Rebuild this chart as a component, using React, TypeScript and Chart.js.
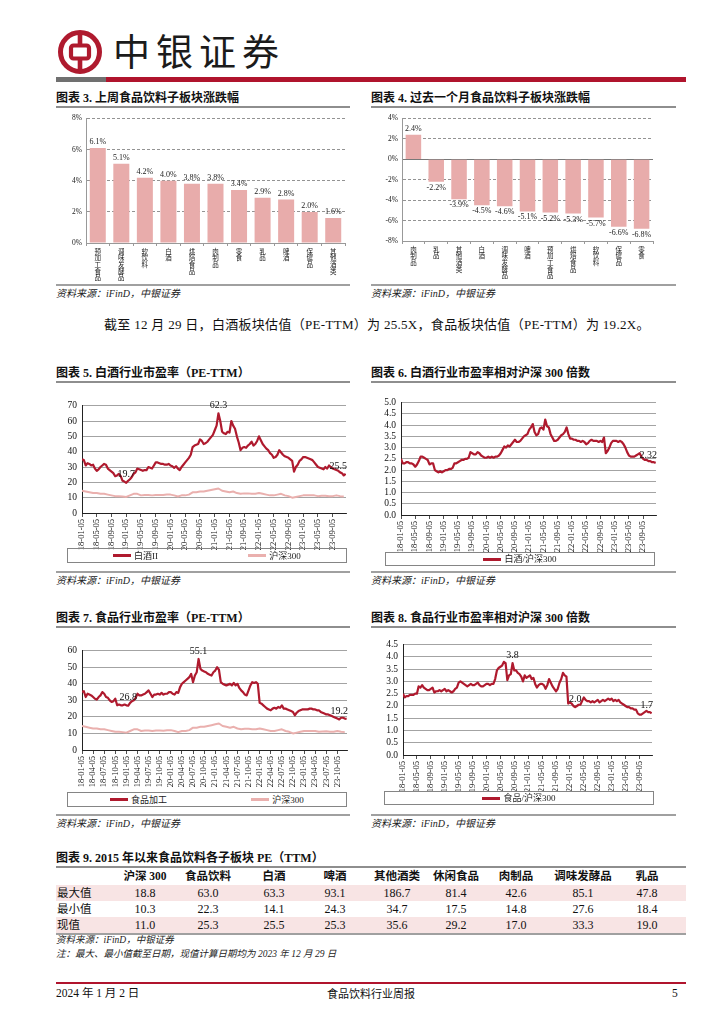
import React, { useEffect, useRef } from 'react';
import { Chart, registerables } from 'chart.js';

Chart.register(...registerables);

const SERIF = '"Liberation Serif", "Times New Roman", "Noto Sans CJK SC", serif';
const CJK = '"Noto Sans CJK SC", sans-serif';
const RED = '#AF1A2E';
const PINK = '#EAB0AE';
const BAR = '#E8ACAB';

// ---------- Chart 3: weekly change ----------
const WEEK_CATS = ['预加工食品', '调味发酵品', '软饮料', '白酒', '烘焙食品', '肉制品', '零食', '乳品', '啤酒', '保健品', '其他酒类'];
const WEEK_VALS = [6.1, 5.1, 4.2, 4.0, 3.8, 3.8, 3.4, 2.9, 2.8, 2.0, 1.6];

// ---------- Chart 4: monthly change ----------
const MONTH_CATS = ['肉制品', '乳品', '其他酒类', '白酒', '调味发酵品', '啤酒', '预加工食品', '烘焙食品', '软饮料', '保健品', '零食'];
const MONTH_VALS = [2.4, -2.2, -3.9, -4.5, -4.6, -5.1, -5.2, -5.3, -5.7, -6.6, -6.8];

// ---------- time axis tick labels ----------
const TICKS_4M = ['18-01-05', '18-05-05', '18-09-05', '19-01-05', '19-05-05', '19-09-05', '20-01-05', '20-05-05', '20-09-05', '21-01-05', '21-05-05', '21-09-05', '22-01-05', '22-05-05', '22-09-05', '23-01-05', '23-05-05', '23-09-05'];
const TICKS_3M = ['18-01-05', '18-04-05', '18-07-05', '18-10-05', '19-01-05', '19-04-05', '19-07-05', '19-10-05', '20-01-05', '20-04-05', '20-07-05', '20-10-05', '21-01-05', '21-04-05', '21-07-05', '21-10-05', '22-01-05', '22-04-05', '22-07-05', '22-10-05', '23-01-05', '23-04-05', '23-07-05', '23-10-05'];

// ---------- Chart 5: Baijiu PE (twice a month, 2018-01 .. 2023-12) ----------
const BAIJIU_PE = [
  35, 34.5, 31, 32.5, 32, 31, 31.5, 29, 27.5, 28.5, 30, 31, 32, 31.5, 29, 28, 27, 26, 24, 24.5, 25.5, 24, 21, 20.5,
  19.7, 21, 22, 23.5, 25.5, 26.5, 29, 28.5, 28, 27.5, 28, 28, 30, 29.5, 29, 31, 33, 33, 32.5, 32, 32, 31.5, 31.5, 32,
  31, 30.5, 29.5, 30.5, 29, 28, 30, 31.5, 33, 34.5, 36, 38, 43, 44, 44.5, 45, 48, 47, 45, 45.5, 46.5, 48, 49.5, 51,
  54, 57, 65, 60, 53, 52, 51.5, 53, 52.5, 60, 57, 55, 50, 46, 41, 42.5, 43, 42.5, 44, 45, 46.5, 44, 45, 47,
  50, 47.5, 45, 43.5, 42, 41, 39, 38, 36, 36.5, 38, 41, 39.5, 38, 37, 36.5, 36, 35, 34, 27, 30, 31.5, 34, 35,
  36.5, 36.5, 36, 35.5, 35, 34.5, 33, 31.5, 30, 29.5, 29, 28.5, 30, 29, 31, 30, 29, 28.5, 28, 27.5, 26.5, 26, 24.5, 25.5,
];
// CSI 300 PE (monthly)
const HS300_PE = [
  14.5, 14, 13.5, 13, 13, 12.5, 12.5, 12, 11.5, 11, 11, 10.8,
  10.5, 11.5, 12.5, 12.5, 11.5, 11.8, 11.8, 11.5, 11.8, 11.8, 11.7, 12,
  12, 11.5, 10.8, 11.5, 11.5, 12, 13.5, 13.5, 14, 14, 14.5, 15,
  15.5, 16, 14.5, 14, 13.5, 14, 13, 12.5, 12.8, 12.8, 12.5, 12.5,
  13, 12.5, 12, 11.5, 11.5, 12, 12.5, 11.5, 11, 10, 10.5, 11,
  11.5, 11.5, 11.5, 11.5, 11, 11.2, 11.3, 11, 11, 11.5, 11, 10.8,
];
const BAIJIU_PE_NOTES = [
  { index: 74, text: '62.3' },
  { index: 24, text: '19.7' },
  { index: 143, text: '25.5' },
];

// ---------- Chart 6: Baijiu / CSI300 ----------
const BAIJIU_REL = [
  2.5, 2.3, 2.3, 2.35, 2.35, 2.3, 2.3, 2.25, 2.15, 2.25, 2.4, 2.6, 2.6, 2.55, 2.5, 2.45, 2.25, 2.3, 2.3, 2.0, 1.95, 1.9, 1.95, 1.9,
  1.95, 2.0, 2.0, 2.05, 2.05, 2.1, 2.3, 2.3, 2.35, 2.4, 2.45, 2.45, 2.5, 2.5, 2.55, 2.8, 2.75, 2.7, 2.7, 2.8, 2.75, 2.65, 2.6, 2.55,
  2.55, 2.6, 2.55, 2.6, 2.55, 2.6, 2.6, 2.65, 2.75, 2.9, 3.05, 3.0, 3.1, 3.05, 3.15, 3.25, 3.35, 3.25, 3.25, 3.3, 3.4, 3.5, 3.55, 3.6,
  3.8, 3.9, 4.05, 3.7, 3.55, 3.6, 3.85, 3.9, 3.8, 4.25, 3.95, 3.9, 3.6, 3.45, 3.3, 3.3, 3.35, 3.45, 3.55, 3.6, 3.7, 3.9, 3.6, 3.4,
  3.4, 3.35, 3.35, 3.3, 3.3, 3.25, 3.3, 3.25, 3.15, 3.2, 3.3, 3.35, 3.3, 3.3, 3.3, 3.25, 3.3, 3.25, 3.45, 2.75, 2.85, 3.0, 3.2, 3.3,
  3.3, 3.3, 3.25, 3.3, 3.25, 3.15, 3.0, 2.8, 2.65, 2.6, 2.6, 2.6, 2.65, 2.7, 2.75, 2.6, 2.5, 2.45, 2.45, 2.4, 2.4, 2.35, 2.35, 2.32,
];
const BAIJIU_REL_NOTES = [{ index: 143, text: '2.32' }];

// ---------- Chart 7: Food PE ----------
const FOOD_PE = [
  35, 35.5, 32, 34, 33.5, 33, 32, 31, 30.5, 32, 33, 35, 34, 32, 31.5, 30, 29, 29.5, 31, 27, 27.5, 27, 27, 27.5,
  27, 26.8, 28.5, 29.5, 30, 31.5, 34, 33, 33, 33.5, 34, 35, 36, 34, 32, 33.5, 33.5, 34, 33.5, 34.5, 33.5, 34, 34, 35,
  35, 34, 33.5, 35, 34.5, 38, 40, 41, 42, 43, 44, 46, 41, 45, 47, 55, 49, 48, 47.5, 47, 46, 45.5, 45, 47,
  48, 50, 48.5, 41, 40, 39.5, 39, 39.5, 40, 39, 40.5, 39, 40, 37.5, 36, 35, 33.5, 33, 36, 39, 41, 40.5, 41, 40,
  28.5, 28, 27, 26, 25, 24.5, 24, 25, 25.5, 25, 26, 25.5, 27, 25, 25, 24.5, 24, 23.5, 23, 21, 22.5, 23.5, 24, 24.5,
  24.5, 24.5, 24.5, 25, 25, 24.5, 24.5, 24, 24, 23, 22.5, 22, 21.5, 21.5, 21, 20.5, 20, 19.5, 19, 18.5, 19.5, 19.5, 19, 18.8,
];
const FOOD_PE_NOTES = [
  { index: 63, text: '55.1' },
  { index: 25, text: '26.8' },
  { index: 143, text: '19.2' },
];

// ---------- Chart 8: Food / CSI300 ----------
const FOOD_REL = [
  2.5, 2.35, 2.4, 2.4, 2.45, 2.45, 2.45, 2.5, 2.5, 2.8, 2.75, 2.85, 2.75, 2.7, 2.65, 2.65, 2.7, 2.75, 2.55, 2.6, 2.6, 2.65, 2.6, 2.65,
  2.7, 2.6, 2.65, 2.6, 2.55, 2.6, 2.7, 2.75, 2.95, 3.0, 2.95, 2.9, 2.85, 2.8, 2.85, 2.9, 2.85, 2.85, 2.9, 2.95, 2.85, 2.8, 2.8, 2.85,
  2.9, 2.9, 2.85, 2.9, 2.9, 3.1, 3.45, 3.55, 3.6, 3.65, 3.8, 3.75, 3.05, 3.25, 3.3, 3.75, 3.45, 3.45, 3.35, 3.3, 3.2, 3.0, 3.25, 3.15,
  3.2, 3.25, 3.1, 3.15, 2.9, 2.75, 2.85, 2.9, 2.9, 2.85, 2.7, 2.85, 3.1, 2.95, 2.8, 2.7, 2.6, 2.7, 2.95, 3.1, 3.35, 3.25, 3.2, 2.1,
  2.15, 2.1, 2.0, 1.95, 2.0, 2.05, 2.05, 2.2, 2.35, 2.25, 2.2, 2.2, 2.15, 2.2, 2.15, 2.2, 2.25, 2.15, 2.2, 2.25, 2.2, 2.25, 2.3, 2.25,
  2.3, 2.2, 2.25, 2.2, 2.25, 2.15, 2.1, 2.05, 2.0, 1.95, 1.95, 1.9, 1.9, 1.85, 1.85, 1.7, 1.65, 1.65, 1.7, 1.75, 1.8, 1.75, 1.75, 1.7,
];
const FOOD_REL_NOTES = [
  { index: 63, text: '3.8' },
  { index: 99, text: '2.0' },
  { index: 143, text: '1.7' },
];

// ---------- Table 9 ----------
const TABLE_COLS = ['沪深 300', '食品饮料', '白酒', '啤酒', '其他酒类', '休闲食品', '肉制品', '调味发酵品', '乳品'];
const TABLE_ROWS = ['最大值', '最小值', '现值'];
const TABLE_MAX = [18.8, 63.0, 63.3, 93.1, 186.7, 81.4, 42.6, 85.1, 47.8];
const TABLE_MIN = [10.3, 22.3, 14.1, 24.3, 34.7, 17.5, 14.8, 27.6, 18.4];
const TABLE_NOW = [11.0, 25.3, 25.5, 25.3, 35.6, 29.2, 17.0, 33.3, 19.0];

// layout of table columns (pixel centres)
const COL_X = [145, 208, 274, 335, 397, 456, 516, 583, 647];

// ---------------- plugins ----------------
function notePlugin(notes: { index: number; text: string }[]) {
  return {
    id: 'notes',
    afterDatasetsDraw(chart: any) {
      const ctx = chart.ctx;
      const meta = chart.getDatasetMeta(0);
      ctx.save();
      ctx.font = `10px ${SERIF}`;
      ctx.fillStyle = '#111';
      ctx.textAlign = 'center';
      ctx.textBaseline = 'bottom';
      for (const n of notes) {
        const el = meta.data[n.index];
        if (!el) continue;
        const w = ctx.measureText(n.text).width;
        const x = Math.min(el.x, chart.chartArea.right + 1 - w / 2);
        ctx.fillText(n.text, x, el.y - 3);
      }
      ctx.restore();
    },
  };
}

const barLabelPlugin = {
  id: 'barLabels',
  afterDatasetsDraw(chart: any) {
    const ctx = chart.ctx;
    const meta = chart.getDatasetMeta(0);
    const vals = chart.data.datasets[0].data as number[];
    ctx.save();
    ctx.font = `8px ${SERIF}`;
    ctx.fillStyle = '#222';
    ctx.textAlign = 'center';
    meta.data.forEach((bar: any, i: number) => {
      const v = vals[i];
      const t = v.toFixed(1) + '%';
      if (v >= 0) {
        ctx.textBaseline = 'bottom';
        ctx.fillText(t, bar.x, bar.y - 2);
      } else {
        ctx.textBaseline = 'top';
        ctx.fillText(t, bar.x, bar.y + 2);
      }
    });
    ctx.restore();
  },
};

// ---------------- config builders ----------------
type Series = { label: string; values: number[]; step: number; color: string; width: number };

function lineConfig(o: {
  series: Series[];
  yMax: number;
  yStep: number;
  yDec: number;
  ticks: string[];
  tickEvery: number;
  notes: { index: number; text: string }[];
  padTop: number;
  padRight: number;
  yWidth: number;
  xHeight: number;
}): any {
  return {
    type: 'line',
    data: {
      datasets: o.series.map((s) => ({
        label: s.label,
        data: s.values.map((v, i) => ({ x: i * s.step, y: v })),
        borderColor: s.color,
        backgroundColor: s.color,
        borderWidth: s.width,
        pointRadius: 0,
        tension: 0,
        borderJoinStyle: 'round',
      })),
    },
    options: {
      responsive: false,
      animation: false,
      layout: { padding: { top: o.padTop, right: o.padRight, left: 0, bottom: 0 } },
      plugins: { legend: { display: false }, tooltip: { enabled: false } },
      scales: {
        x: {
          type: 'linear',
          min: 0,
          max: 71.6,
          bounds: 'data',
          afterBuildTicks: (s: any) => {
            s.ticks = o.ticks.map((_, k) => ({ value: k * o.tickEvery }));
          },
          afterFit: (s: any) => {
            s.height = o.xHeight;
          },
          ticks: {
            autoSkip: false,
            maxRotation: 90,
            minRotation: 90,
            padding: 2,
            color: '#111',
            font: { family: SERIF, size: 8.5 },
            callback: (_v: any, i: number) => o.ticks[i],
          },
          grid: { display: true, drawOnChartArea: false, drawTicks: true, tickLength: 4, color: '#222', lineWidth: 0.8 },
          border: { display: true, color: '#222', width: 1 },
        },
        y: {
          min: 0,
          max: o.yMax,
          afterFit: (s: any) => {
            s.width = o.yWidth;
          },
          ticks: {
            stepSize: o.yStep,
            autoSkip: false,
            padding: 5,
            color: '#111',
            font: { family: SERIF, size: 9.5 },
            callback: (v: any) => Number(v).toFixed(o.yDec),
          },
          grid: { color: '#8c8c8c', lineWidth: 0.8, drawTicks: false },
          border: { display: true, color: '#222', width: 1 },
        },
      },
    },
    plugins: [notePlugin(o.notes)],
  };
}

function barConfig(o: {
  cats: string[];
  values: number[];
  yMin: number;
  yMax: number;
  padTop: number;
  padRight: number;
  yWidth: number;
  xHeight: number;
}): any {
  return {
    type: 'bar',
    data: {
      labels: o.cats.map((c) => Array.from(c)),
      datasets: [{ data: o.values, backgroundColor: BAR, barPercentage: 0.68, categoryPercentage: 1 }],
    },
    options: {
      responsive: false,
      animation: false,
      layout: { padding: { top: o.padTop, right: o.padRight, left: 0, bottom: 0 } },
      plugins: { legend: { display: false }, tooltip: { enabled: false } },
      scales: {
        x: {
          afterFit: (s: any) => {
            s.height = o.xHeight;
          },
          ticks: {
            autoSkip: false,
            maxRotation: 0,
            minRotation: 0,
            padding: 2,
            color: '#222',
            font: { family: CJK, size: 6.5, lineHeight: 1.02 },
          },
          grid: { display: true, drawOnChartArea: false, drawTicks: true, tickLength: 3, color: '#999', offset: true },
          border: { display: true, color: '#999', width: 1 },
        },
        y: {
          min: o.yMin,
          max: o.yMax,
          afterFit: (s: any) => {
            s.width = o.yWidth;
          },
          ticks: {
            stepSize: 2,
            autoSkip: false,
            padding: 4,
            color: '#222',
            font: { family: SERIF, size: 7.5 },
            callback: (v: any) => v + '%',
          },
          grid: {
            color: (c: any) => (c.tick && c.tick.value === 0 ? '#555' : '#777'),
            lineWidth: 0.8,
            drawTicks: false,
          },
          border: {
            display: true,
            color: '#999',
            width: 1,
            dash: (c: any) => (c.tick && c.tick.value !== 0 ? [3, 2] : []),
          },
        },
      },
    },
    plugins: [barLabelPlugin],
  };
}

// ---------------- components ----------------
function ChartCanvas(p: { left: number; top: number; width: number; height: number; make: () => any }) {
  const ref = useRef<HTMLCanvasElement>(null);
  useEffect(() => {
    const chart = new Chart(ref.current as HTMLCanvasElement, p.make());
    return () => chart.destroy();
  }, []);
  return (
    <canvas
      ref={ref}
      width={p.width}
      height={p.height}
      style={{ position: 'absolute', left: p.left, top: p.top, width: p.width, height: p.height }}
    />
  );
}

function Text(p: { left: number; top: number; size: number; children: any; bold?: boolean; italic?: boolean; family?: string; color?: string; width?: number; align?: any; spacing?: number }) {
  return (
    <div
      style={{
        position: 'absolute',
        left: p.left,
        top: p.top,
        width: p.width,
        textAlign: p.align,
        fontSize: p.size,
        lineHeight: `${p.size + 2}px`,
        fontWeight: p.bold ? 700 : 400,
        fontStyle: p.italic ? 'italic' : 'normal',
        fontFamily: p.family || SERIF,
        color: p.color || '#111',
        whiteSpace: 'nowrap',
        letterSpacing: p.spacing,
      }}
    >
      {p.children}
    </div>
  );
}

function Rule(p: { left: number; top: number; width: number; height: number; color: string }) {
  return <div style={{ position: 'absolute', left: p.left, top: p.top, width: p.width, height: p.height, background: p.color }} />;
}

function Legend(p: { left: number; top: number; width: number; height: number; items: { label: string; color: string }[] }) {
  return (
    <div
      style={{
        position: 'absolute',
        left: p.left,
        top: p.top,
        width: p.width,
        height: p.height,
        boxSizing: 'border-box',
        border: '1px solid #858585',
        display: 'flex',
        justifyContent: 'space-around',
        alignItems: 'center',
      }}
    >
      {p.items.map((it) => (
        <div key={it.label} style={{ display: 'flex', alignItems: 'center' }}>
          <span style={{ display: 'inline-block', width: 18, height: 3, background: it.color, marginRight: 3 }} />
          <span style={{ fontFamily: SERIF, fontSize: 9, lineHeight: '10px', color: '#222' }}>{it.label}</span>
        </div>
      ))}
    </div>
  );
}

function Section(p: { left: number; width: number; titleTop: number; title: string; bottomTop: number }) {
  return (
    <>
      <Text left={p.left} top={p.titleTop} size={12} bold>
        {p.title}
      </Text>
      <Rule left={p.left} top={p.titleTop + 15} width={p.width} height={2} color="#8e8e8e" />
      <Rule left={p.left} top={p.bottomTop} width={p.width} height={2} color="#a0a0a0" />
      <Text left={p.left} top={p.bottomTop + 4} size={10} italic color="#222">
        资料来源：iFinD，中银证券
      </Text>
    </>
  );
}

export default function App() {
  const tableData = [TABLE_MAX, TABLE_MIN, TABLE_NOW];
  return (
    <div style={{ position: 'absolute', left: 0, top: 0, width: 724, height: 1024, background: '#fff', overflow: 'hidden' }}>
      {/* header */}
      <svg width={46} height={46} style={{ position: 'absolute', left: 57, top: 29 }}>
        <circle cx={23} cy={23} r={19.5} fill="none" stroke={RED} strokeWidth={5} />
        <rect x={14} y={16.5} width={18} height={13} rx={2.5} fill="none" stroke={RED} strokeWidth={4.2} />
        <rect x={20.7} y={2} width={4.6} height={15} fill={RED} />
        <rect x={20.7} y={29} width={4.6} height={15} fill={RED} />
      </svg>
      <div
        style={{
          position: 'absolute',
          left: 113,
          top: 28,
          fontFamily: CJK,
          fontSize: 37,
          lineHeight: '44px',
          letterSpacing: 6,
          color: '#1b1b1b',
          whiteSpace: 'nowrap',
        }}
      >
        中银证券
      </div>
      <Rule left={56} top={77} width={50} height={5} color="#707070" />
      <Rule left={106} top={77} width={580} height={5} color="#B0142D" />

      {/* chart 3 & 4 */}
      <Section left={56} width={294} titleTop={91} title="图表 3. 上周食品饮料子板块涨跌幅" bottomTop={284} />
      <Section left={371} width={305} titleTop={91} title="图表 4. 过去一个月食品饮料子板块涨跌幅" bottomTop={284} />
      <ChartCanvas
        left={56}
        top={110}
        width={294}
        height={180}
        make={() => barConfig({ cats: WEEK_CATS, values: WEEK_VALS, yMin: 0, yMax: 8, padTop: 7, padRight: 5, yWidth: 30, xHeight: 47 })}
      />
      <ChartCanvas
        left={371}
        top={110}
        width={290}
        height={180}
        make={() => barConfig({ cats: MONTH_CATS, values: MONTH_VALS, yMin: -8, yMax: 4, padTop: 7, padRight: 8, yWidth: 31, xHeight: 49 })}
      />

      {/* paragraph */}
      <Text left={104} top={317} size={13} family={SERIF} spacing={0.3}>
        截至 12 月 29 日，白酒板块估值（PE-TTM）为 25.5X，食品板块估值（PE-TTM）为 19.2X。
      </Text>

      {/* chart 5 & 6 */}
      <Section left={56} width={294} titleTop={366} title="图表 5. 白酒行业市盈率（PE-TTM）" bottomTop={571} />
      <Section left={371} width={305} titleTop={366} title="图表 6. 白酒行业市盈率相对沪深 300 倍数" bottomTop={571} />
      <ChartCanvas
        left={50}
        top={395}
        width={300}
        height={155}
        make={() =>
          lineConfig({
            series: [
              { label: '白酒II', values: BAIJIU_PE, step: 0.5, color: RED, width: 2.2 },
              { label: '沪深300', values: HS300_PE, step: 1, color: PINK, width: 2 },
            ],
            yMax: 70,
            yStep: 10,
            yDec: 0,
            ticks: TICKS_4M,
            tickEvery: 4,
            notes: BAIJIU_PE_NOTES,
            padTop: 10,
            padRight: 4,
            yWidth: 32,
            xHeight: 37,
          })
        }
      />
      <Legend left={67} top={548} width={280} height={15} items={[{ label: '白酒II', color: RED }, { label: '沪深300', color: PINK }]} />
      <ChartCanvas
        left={365}
        top={392}
        width={295}
        height={160}
        make={() =>
          lineConfig({
            series: [{ label: '白酒/沪深300', values: BAIJIU_REL, step: 0.5, color: RED, width: 2.2 }],
            yMax: 5,
            yStep: 0.5,
            yDec: 1,
            ticks: TICKS_4M,
            tickEvery: 4,
            notes: BAIJIU_REL_NOTES,
            padTop: 9,
            padRight: 4,
            yWidth: 36,
            xHeight: 37,
          })
        }
      />
      <Legend left={385} top={552} width={270} height={14} items={[{ label: '白酒/沪深300', color: RED }]} />

      {/* chart 7 & 8 */}
      <Section left={56} width={294} titleTop={611} title="图表 7. 食品行业市盈率（PE-TTM）" bottomTop={814} />
      <Section left={371} width={305} titleTop={611} title="图表 8. 食品行业市盈率相对沪深 300 倍数" bottomTop={814} />
      <ChartCanvas
        left={50}
        top={640}
        width={300}
        height={147}
        make={() =>
          lineConfig({
            series: [
              { label: '食品加工', values: FOOD_PE, step: 0.5, color: RED, width: 2.2 },
              { label: '沪深300', values: HS300_PE, step: 1, color: PINK, width: 2 },
            ],
            yMax: 60,
            yStep: 10,
            yDec: 0,
            ticks: TICKS_3M,
            tickEvery: 3,
            notes: FOOD_PE_NOTES,
            padTop: 9,
            padRight: 3,
            yWidth: 32,
            xHeight: 37,
          })
        }
      />
      <Legend left={67} top={792} width={280} height={15} items={[{ label: '食品加工', color: RED }, { label: '沪深300', color: PINK }]} />
      <ChartCanvas
        left={365}
        top={634}
        width={292}
        height={158}
        make={() =>
          lineConfig({
            series: [{ label: '食品/沪深300', values: FOOD_REL, step: 0.5, color: RED, width: 2.2 }],
            yMax: 4.5,
            yStep: 0.5,
            yDec: 1,
            ticks: TICKS_4M,
            tickEvery: 4,
            notes: FOOD_REL_NOTES,
            padTop: 9,
            padRight: 5,
            yWidth: 38,
            xHeight: 37,
          })
        }
      />
      <Legend left={384} top={791} width={270} height={14} items={[{ label: '食品/沪深300', color: RED }]} />

      {/* table 9 */}
      <Text left={56} top={851} size={12} bold>
        图表 9. 2015 年以来食品饮料各子板块 PE（TTM）
      </Text>
      <Rule left={56} top={866} width={630} height={2} color="#8e8e8e" />
      {TABLE_COLS.map((c, j) => (
        <Text key={c} left={COL_X[j] - 40} width={80} align="center" top={870} size={11.5} bold>
          {c}
        </Text>
      ))}
      {TABLE_ROWS.map((r, i) => (
        <React.Fragment key={r}>
          {i !== 1 && <Rule left={56} top={885 + i * 16} width={630} height={16} color="#F8E4E4" />}
          <Text left={57} top={886 + i * 16} size={11.5} family={CJK}>
            {r}
          </Text>
          {tableData[i].map((v, j) => (
            <Text key={j} left={COL_X[j] - 40} width={80} align="center" top={886 + i * 16} size={12}>
              {v.toFixed(1)}
            </Text>
          ))}
        </React.Fragment>
      ))}
      <Rule left={56} top={933} width={630} height={1.5} color="#a0a0a0" />
      <Text left={56} top={935} size={9.5} italic color="#222">
        资料来源：iFinD，中银证券
      </Text>
      <Text left={56} top={949} size={9.5} italic color="#222">
        注：最大、最小值截至日期，现值计算日期均为 2023 年 12 月 29 日
      </Text>

      {/* footer */}
      <Rule left={56} top={982} width={630} height={2} color="#B0142D" />
      <Text left={56} top={987} size={11.5}>
        2024 年 1 月 2 日
      </Text>
      <Text left={271} width={200} align="center" top={987} size={11} family={CJK}>
        食品饮料行业周报
      </Text>
      <Text left={672} top={987} size={11.5}>
        5
      </Text>
    </div>
  );
}
